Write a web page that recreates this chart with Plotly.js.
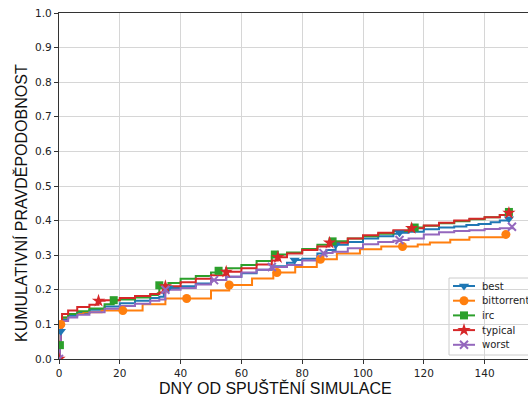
<!DOCTYPE html>
<html><head><meta charset="utf-8">
<script src="https://cdn.plot.ly/plotly-3.0.1.min.js"></script>
<style>html,body{margin:0;padding:0;overflow:hidden;background:#fff}</style>
</head><body><div id="chart"></div>
<script>
// ---- data ----
const seriesNames = ["best", "bittorrent", "irc", "typical", "worst"];

const bestX = [0, 0.3, 0.6, 1, 3, 6, 10, 15, 20, 25, 30, 33, 34.5, 36, 40, 45, 50, 55, 60, 65, 70, 75, 77.5, 80, 85, 88, 91, 95, 100, 105, 110, 112, 115, 120, 125, 130, 134, 138, 142, 145, 148];
const bestY = [0, 0.04, 0.08, 0.115, 0.125, 0.133, 0.142, 0.152, 0.161, 0.168, 0.176, 0.18, 0.198, 0.205, 0.21, 0.218, 0.228, 0.238, 0.248, 0.258, 0.268, 0.278, 0.286, 0.29, 0.305, 0.315, 0.33, 0.338, 0.348, 0.355, 0.362, 0.365, 0.368, 0.375, 0.38, 0.383, 0.387, 0.39, 0.395, 0.40, 0.405];

const bittorrentX = [0, 0.3, 0.6, 1, 3, 8, 14, 27.5, 35, 50, 56, 63.5, 70.5, 77.7, 84.8, 91.4, 99, 106, 118, 122, 128.7, 135, 147, 148];
const bittorrentY = [0, 0.05, 0.1, 0.12, 0.13, 0.135, 0.14, 0.158, 0.175, 0.198, 0.214, 0.233, 0.25, 0.266, 0.288, 0.305, 0.317, 0.325, 0.331, 0.337, 0.345, 0.352, 0.36, 0.36];

const ircX = [0, 0.3, 0.6, 1, 3, 6, 10, 15, 18, 20, 25, 30, 32.5, 33, 36, 40, 45, 50, 52.5, 55, 60, 65, 70, 71, 75, 80, 85, 90, 95, 100, 105, 110, 115, 117, 120, 125, 130, 135, 140, 145, 147, 148];
const ircY = [0, 0.04, 0.08, 0.12, 0.13, 0.138, 0.146, 0.158, 0.17, 0.172, 0.178, 0.185, 0.19, 0.213, 0.22, 0.232, 0.24, 0.25, 0.255, 0.262, 0.272, 0.283, 0.295, 0.302, 0.308, 0.318, 0.33, 0.34, 0.348, 0.355, 0.362, 0.37, 0.378, 0.38, 0.385, 0.392, 0.398, 0.404, 0.41, 0.416, 0.425, 0.425];

const typicalX = [0, 0.3, 0.6, 1, 3, 6, 10, 13, 15, 20, 25, 30, 33, 35, 40, 45, 50, 55, 60, 65, 70, 72, 75, 80, 85, 89, 95, 100, 105, 110, 116, 120, 125, 130, 135, 140, 145, 148];
const typicalY = [0, 0.05, 0.1, 0.13, 0.14, 0.15, 0.157, 0.168, 0.17, 0.176, 0.182, 0.188, 0.192, 0.21, 0.222, 0.232, 0.242, 0.252, 0.262, 0.273, 0.285, 0.294, 0.305, 0.315, 0.325, 0.336, 0.348, 0.358, 0.365, 0.372, 0.378, 0.386, 0.394, 0.4, 0.405, 0.41, 0.416, 0.422];

const worstX = [0, 0.3, 0.6, 1, 3, 6, 10, 15, 20, 25, 30, 33, 35, 40, 45, 50, 55, 60, 65, 70, 75, 80, 85, 87, 90, 95, 100, 105, 110, 112, 115, 120, 125, 130, 135, 140, 145, 149];
const worstY = [0, 0.04, 0.08, 0.11, 0.12, 0.128, 0.135, 0.145, 0.153, 0.16, 0.168, 0.172, 0.2, 0.205, 0.215, 0.228, 0.238, 0.25, 0.258, 0.266, 0.272, 0.285, 0.298, 0.306, 0.31, 0.32, 0.332, 0.338, 0.342, 0.344, 0.348, 0.36, 0.366, 0.37, 0.372, 0.376, 0.378, 0.382];

// x positions where markers sit on each curve
const bestMarks = [0.6, 36, 77.5, 91, 112, 148];
const bittorrentMarks = [0.6, 21, 42, 56, 71.7, 86, 113, 147];
const ircMarks = [0.3, 18, 33, 52.5, 71, 90, 117, 148];
const typicalMarks = [0, 13, 35, 55, 72, 89, 116, 148];
const worstMarks = [0, 35, 51, 70, 87, 112, 149];

const xTicks = [0, 20, 40, 60, 80, 100, 120, 140];
const yTicks = [0, 0.1, 0.2, 0.3, 0.4, 0.5, 0.6, 0.7, 0.8, 0.9, 1.0];
const xTitle = "DNY OD SPUŠTĚNÍ SIMULACE";
const yTitle = "KUMULATIVNÍ PRAVDĚPODOBNOST";

// ---- styling ----
const colors = ["#1f77b4", "#ff7f0e", "#2ca02c", "#d62728", "#9467bd"];
const symbols = ["triangle-down", "circle", "square", "star", "x-thin"];
const msizes = [9, 9, 8, 10, 8];

const xs = [bestX, bittorrentX, ircX, typicalX, worstX];
const ys = [bestY, bittorrentY, ircY, typicalY, worstY];
const marks = [bestMarks, bittorrentMarks, ircMarks, typicalMarks, worstMarks];

// geometry (pixels in the page)
const L = 59, R = 551, T = 13, B = 359, W = 561;
const fx = px => (px - L) / (R - L);
const fy = py => (B - py) / (B - T);

function stepAt(X, Y, x) {
  let v = Y[0];
  for (let i = 0; i < X.length; i++) { if (X[i] <= x) v = Y[i]; }
  return v;
}

function markerStyle(i) {
  const m = {symbol: symbols[i], size: msizes[i], color: colors[i]};
  if (symbols[i] === "x-thin") m.line = {color: colors[i], width: 2};
  else m.line = {width: 0};
  return m;
}

const traces = [];
for (let i = 0; i < 5; i++) {
  traces.push({x: xs[i], y: ys[i], mode: "lines", line: {shape: "hv", color: colors[i], width: 2},
    showlegend: false, hoverinfo: "skip"});
}
for (let i = 0; i < 5; i++) {
  traces.push({x: marks[i], y: marks[i].map(v => stepAt(xs[i], ys[i], v)), mode: "markers",
    marker: markerStyle(i), showlegend: false, hoverinfo: "skip"});
}

// hand-built legend (matplotlib-like compact spacing)
const rowY = [286, 300.7, 315.4, 330.1, 344.8];
const annotations = [];
for (let i = 0; i < 5; i++) {
  traces.push({x: [fx(453), fx(475)], y: [fy(rowY[i]), fy(rowY[i])], xaxis: "x2", yaxis: "y2",
    mode: "lines", line: {color: colors[i], width: 2}, showlegend: false, hoverinfo: "skip", cliponaxis: false});
  traces.push({x: [fx(464)], y: [fy(rowY[i])], xaxis: "x2", yaxis: "y2",
    mode: "markers", marker: markerStyle(i), showlegend: false, hoverinfo: "skip", cliponaxis: false});
  annotations.push({text: seriesNames[i], xref: "paper", yref: "paper", x: fx(480), y: fy(rowY[i]),
    xanchor: "left", yanchor: "middle", showarrow: false,
    font: {family: "DejaVu Sans", size: 10, color: "#222"}});
}

annotations.push(
  {text: xTitle, xref: "paper", yref: "paper", x: fx(275), y: fy(387.5), xanchor: "center", yanchor: "middle",
    showarrow: false, font: {family: "Liberation Sans", size: 16, color: "#111"}},
  {text: yTitle, xref: "paper", yref: "paper", x: fx(21), y: fy(203), xanchor: "center", yanchor: "middle",
    textangle: -90, showarrow: false, font: {family: "Liberation Sans", size: 16, color: "#111"}}
);

const axisCommon = {
  showgrid: true, gridcolor: "#d6d6d6", gridwidth: 1,
  showline: true, linecolor: "#333", linewidth: 1.2, mirror: true,
  ticks: "outside", ticklen: 4, tickwidth: 1, tickcolor: "#333",
  tickfont: {family: "DejaVu Sans", size: 10.5, color: "#222"},
  zeroline: false, fixedrange: true
};

const layout = {
  width: W, height: 396,
  margin: {l: L, r: W - R, t: T, b: 396 - B},
  paper_bgcolor: "#fff", plot_bgcolor: "#fff",
  xaxis: Object.assign({}, axisCommon, {range: [0, (R - L) / 3.04], tickvals: xTicks, ticktext: xTicks.map(String)}),
  yaxis: Object.assign({}, axisCommon, {range: [0, 1], tickvals: yTicks, ticktext: yTicks.map(v => v.toFixed(1))}),
  xaxis2: {overlaying: "x", range: [0, 1], visible: false, fixedrange: true},
  yaxis2: {overlaying: "y", range: [0, 1], visible: false, fixedrange: true},
  showlegend: false,
  shapes: [{type: "rect", xref: "paper", yref: "paper", x0: fx(449), x1: fx(546), y0: fy(355), y1: fy(278),
    layer: "between", fillcolor: "rgba(255,255,255,0.9)", line: {color: "#cccccc", width: 1}}],
  annotations: annotations
};

Plotly.newPlot("chart", traces, layout, {displayModeBar: false, staticPlot: true});
</script></body></html>
